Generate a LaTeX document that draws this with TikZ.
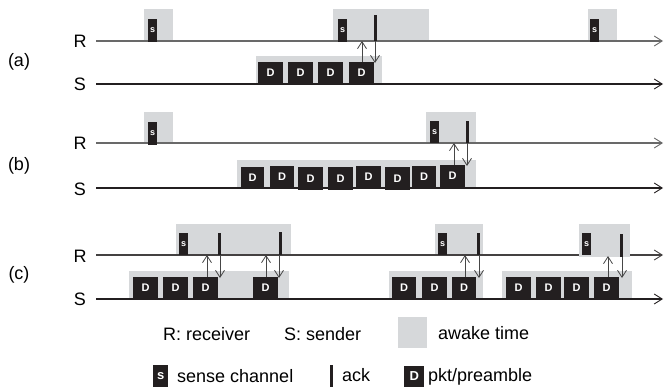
\documentclass[tikz,border=0pt]{standalone}
\usepackage{fontspec}
\setmainfont{Liberation Sans}
\usetikzlibrary{arrows.meta}
\definecolor{awakegray}{RGB}{214,216,218}
\definecolor{blk}{RGB}{35,31,32}
\definecolor{rline}{RGB}{105,105,105}
\definecolor{sigc}{RGB}{70,70,70}
\tikzset{
  awake/.style={fill=awakegray},
  tline/.style={line width=1.1pt, -{Straight Barb[length=8pt,width=10pt,line width=0.9pt]}},
  sblk/.style={fill=blk, text=white, font=\bfseries\fontsize{9}{9}\selectfont, inner sep=0pt,
    minimum width=9pt, minimum height=23pt, anchor=south west},
  dblk/.style={fill=blk, text=white, font=\bfseries\fontsize{11}{11}\selectfont, inner sep=0pt,
    minimum width=25pt, minimum height=22pt, anchor=south west},
  ackbar/.style={fill=blk, inner sep=0pt, minimum width=3pt, minimum height=22pt, anchor=south west},
  sig/.style={draw=sigc, line width=0.9pt, -{Straight Barb[length=7pt,width=9pt,line width=0.8pt]}},
  lbl/.style={font=\fontsize{18}{18}\selectfont, inner sep=0pt},
}
\begin{document}
\begin{tikzpicture}[x=1pt,y=-1pt]
\useasboundingbox (0,0) rectangle (664,391);
% ---------- panel (a)
\fill[awake] (144,9) rectangle (173,41);
\fill[awake] (333,9) rectangle (429,41);
\fill[awake] (588,9) rectangle (617,41);
\fill[awake] (256,56) rectangle (382,84);
\coordinate (aR0) at (96,41); \coordinate (aR1) at (663,41);
\coordinate (aS0) at (96,84); \coordinate (aS1) at (663,84);
\draw[tline, draw=rline] (aR0) -- (aR1);
\draw[tline, draw=blk] (aS0) -- (aS1);
\node[lbl] (aRl) at (80,41) {R};
\node[lbl] (aSl) at (80,84) {S};
\node[lbl] (al) at (19,62) {(a)};
\node[sblk] (as1) at (148,42) {s};
\node[sblk] (as2) at (338,42) {s};
\node[sblk] (as3) at (590,42) {s};
\node[ackbar, minimum height=26pt] (aack) at (374,41) {};
\node[dblk] (ad1) at (258,84) {D};
\node[dblk] (ad2) at (288,84) {D};
\node[dblk] (ad3) at (318,84) {D};
\node[dblk] (ad4) at (349,84) {D};
\coordinate (aup) at (362,62); \coordinate (auptip) at (362,41);
\coordinate (adn) at (375,41); \coordinate (adntip) at (375,63);
\draw[sig] (aup) -- (auptip);
\draw[sig] (adn) -- (adntip);
% ---------- panel (b)
\fill[awake] (144,112) rectangle (173,143);
\fill[awake] (426,112) rectangle (476,143);
\fill[awake] (237,160) rectangle (476,188);
\coordinate (bR0) at (96,143); \coordinate (bR1) at (663,143);
\coordinate (bS0) at (96,188); \coordinate (bS1) at (663,188);
\draw[tline, draw=rline] (bR0) -- (bR1);
\draw[tline, draw=blk] (bS0) -- (bS1);
\node[lbl] (bRl) at (80,143) {R};
\node[lbl] (bSl) at (80,189) {S};
\node[lbl] (bl) at (19,166) {(b)};
\node[sblk] (bs1) at (148,145) {s};
\node[sblk, minimum height=22pt] (bs2) at (430,143) {s};
\node[ackbar, minimum width=3.5pt] (back) at (465.5,143) {};
\node[dblk, minimum width=23pt] (bd1) at (241,189) {D};
\node[dblk, minimum width=24pt, minimum height=21pt] (bd2) at (270,187) {D};
\node[dblk, minimum height=23pt] (bd3) at (298,190) {D};
\node[dblk, minimum height=23pt] (bd4) at (328,190) {D};
\node[dblk] (bd5) at (356,188) {D};
\node[dblk, minimum height=23pt] (bd6) at (385,190) {D};
\node[dblk, minimum width=24pt] (bd7) at (412,188) {D};
\node[dblk] (bd8) at (440,187) {D};
\coordinate (bup) at (454,165); \coordinate (buptip) at (454,143);
\coordinate (bdn) at (467,143); \coordinate (bdntip) at (467,166);
\draw[sig] (bup) -- (buptip);
\draw[sig] (bdn) -- (bdntip);
% ---------- panel (c)
\fill[awake] (176,224) rectangle (291,255);
\fill[awake] (435,224) rectangle (483,255);
\fill[awake] (129,271) rectangle (289,299);
\fill[awake] (389,271) rectangle (483,299);
\fill[awake] (502,271) rectangle (632,299);
\coordinate (cR0) at (96,255); \coordinate (cR1) at (663,255);
\coordinate (cS0) at (96,299); \coordinate (cS1) at (663,299);
\draw[tline, draw=blk!85] (cR0) -- (cR1);
\draw[tline, draw=blk] (cS0) -- (cS1);
\fill[awake] (579,224) rectangle (630,257);
\node[lbl] (cRl) at (80,256) {R};
\node[lbl] (cSl) at (80,299) {S};
\node[lbl] (cl) at (19,275) {(c)};
\node[sblk, minimum height=22pt] (cs1) at (179,255) {s};
\node[sblk, minimum height=22pt] (cs2) at (438,255) {s};
\node[sblk, minimum height=22pt] (cs3) at (582,255) {s};
\node[ackbar] (cack1) at (218,255) {};
\node[ackbar, minimum width=3.5pt, minimum height=23pt] (cack2) at (278.5,255) {};
\node[ackbar] (cack3) at (477,255) {};
\node[ackbar, minimum height=23pt] (cack4) at (620,257) {};
\node[dblk] (cd1) at (133,299) {D};
\node[dblk] (cd2) at (163,299) {D};
\node[dblk] (cd3) at (193,299) {D};
\node[dblk] (cd4) at (253,299) {D};
\node[dblk, minimum width=24pt] (cd5) at (392,299) {D};
\node[dblk] (cd6) at (422,299) {D};
\node[dblk, minimum width=24pt] (cd7) at (452,299) {D};
\node[dblk] (cd8) at (506,299) {D};
\node[dblk] (cd9) at (536,299) {D};
\node[dblk] (cd10) at (564,299) {D};
\node[dblk] (cd11) at (594,299) {D};
\coordinate (cup1) at (207,277); \coordinate (cup1t) at (207,255);
\coordinate (cdn1) at (220,255); \coordinate (cdn1t) at (220,278);
\coordinate (cup2) at (266,277); \coordinate (cup2t) at (266,255);
\coordinate (cdn2) at (279,255); \coordinate (cdn2t) at (279,278);
\coordinate (cup3) at (465,277); \coordinate (cup3t) at (465,255);
\coordinate (cdn3) at (479,255); \coordinate (cdn3t) at (479,278);
\coordinate (cup4) at (608,277); \coordinate (cup4t) at (608,256);
\coordinate (cdn4) at (622,257); \coordinate (cdn4t) at (622,278);
\draw[sig] (cup1) -- (cup1t);
\draw[sig] (cdn1) -- (cdn1t);
\draw[sig] (cup2) -- (cup2t);
\draw[sig] (cdn2) -- (cdn2t);
\draw[sig] (cup3) -- (cup3t);
\draw[sig] (cdn3) -- (cdn3t);
\draw[sig] (cup4) -- (cup4t);
\draw[sig] (cdn4) -- (cdn4t);
% ---------- legend
\node[lbl, anchor=base west] (lrx) at (163,340) {R: receiver};
\node[lbl, anchor=base west] (lsx) at (284,340) {S: sender};
\fill[awake] (398,317) rectangle (427,348);
\node[lbl, anchor=base west] (law) at (438,339) {awake time};
\node[sblk, font=\bfseries\fontsize{13}{13}\selectfont, minimum width=15pt, minimum height=22pt] (lsb) at (153,387) {s};
\node[lbl, anchor=base west] (lsc) at (177,382) {sense channel};
\node[ackbar, minimum height=22pt] (lab) at (330,387) {};
\node[lbl, anchor=base west] (lack) at (342,381) {ack};
\node[dblk, font=\bfseries\fontsize{13}{13}\selectfont, minimum width=20pt, minimum height=21pt] (ldb) at (404,387) {D};
\node[lbl, anchor=base west] (lpk) at (428,381) {pkt/preamble};
\end{tikzpicture}
\end{document}
